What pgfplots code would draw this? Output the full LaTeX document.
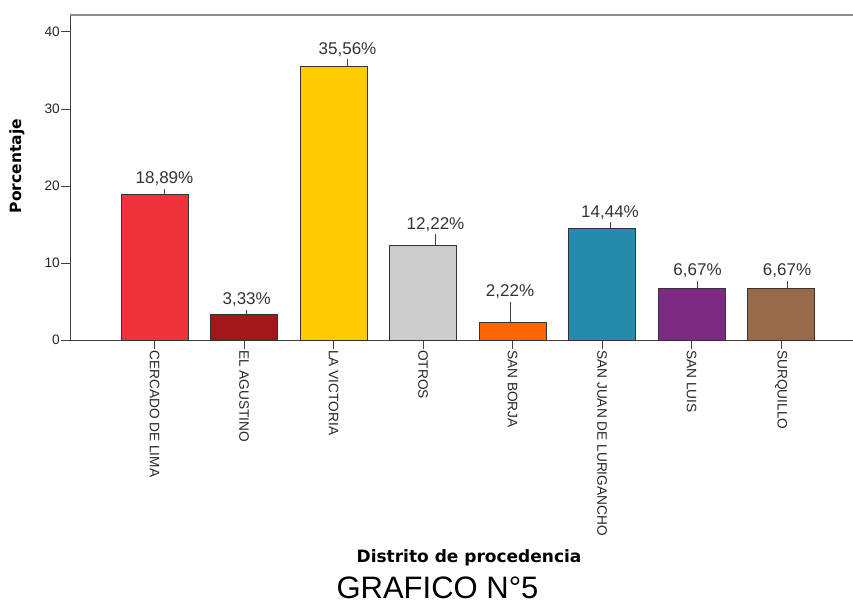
\documentclass[border=0pt]{standalone}
\usepackage{pgfplots}
\pgfplotsset{compat=1.18}
\usepackage{fontspec}
\setmainfont{Liberation Sans}
\newfontfamily\headfont{DejaVu Sans}

\definecolor{cRed}{RGB}{240,50,60}
\definecolor{cDarkRed}{RGB}{163,22,27}
\definecolor{cYellow}{RGB}{255,204,0}
\definecolor{cGray}{RGB}{204,204,204}
\definecolor{cOrange}{RGB}{255,102,0}
\definecolor{cTeal}{RGB}{36,139,174}
\definecolor{cPurple}{RGB}{125,42,130}
\definecolor{cBrown}{RGB}{152,105,74}

% value label with a short leader line below it
\newcommand\vlabel[2]{\vbox{\offinterlineskip\halign{\hfil##\hfil\cr
  \raisebox{0pt}[\height][0pt]{#1}\cr\noalign{\kern 5pt}
  {\color{black!75}\rule{0.8pt}{#2pt}}\cr}}}

\pgfplotsset{
  onebar/.style={fill=#1, draw=black!80, line width=0.9pt, bar shift=0pt},
  vlab/.style 2 args={
    nodes near coords={\vlabel{\pgfmathprintnumber[fixed,fixed zerofill,precision=2,use comma,assume math mode=true]{\pgfplotspointmeta}\%}{#2}},
    every node near coord/.append style={anchor=south, inner sep=0pt, xshift=#1pt,
      font=\fontsize{17}{17}\selectfont, text=black!80},
  },
}

\begin{document}
\begin{tikzpicture}
\useasboundingbox (-70pt,-263pt) rectangle (783pt,340pt);
\begin{axis}[
  at={(0pt,0pt)}, anchor=south west,
  scale only axis, width=783pt, height=325pt,
  ybar, bar width=67pt,
  xmin=-0.944, xmax=7.804, ymin=0, ymax=42.2,
  axis lines=left,
  axis line style={-, draw=black!75, line width=0.9pt},
  xtick={0,...,7},
  xticklabels={CERCADO DE LIMA, EL AGUSTINO, LA VICTORIA, OTROS, SAN BORJA,
    SAN JUAN DE LURIGANCHO, SAN LUIS, SURQUILLO},
  ytick={0,10,20,30,40},
  tick align=outside, major tick length=9pt,
  tick style={draw=black!75, line width=0.9pt},
  /pgf/number format/assume math mode=true,
  xticklabel style={rotate=-90, anchor=west, inner sep=1pt,
    font=\fontsize{13.7}{14}\selectfont, text=black!85},
  yticklabel style={inner sep=1pt, font=\fontsize{13.7}{14}\selectfont, text=black!85},
  ylabel={Porcentaje},
  ylabel style={at={(axis description cs:-0.0677,0.535)}, anchor=center,
    font=\headfont\bfseries\fontsize{15.5}{16}\selectfont},
  xlabel={Distrito de procedencia},
  xlabel style={at={(axis description cs:0.5096,0)}, yshift=-218pt, anchor=center,
    font=\headfont\bfseries\fontsize{17}{18}\selectfont},
  clip=false,
]
\addplot[onebar=cRed,     vlab={10}{5.5}]  coordinates {(0,18.89)};
\addplot[onebar=cDarkRed, vlab={2.7}{4.4}] coordinates {(1,3.33)};
\addplot[onebar=cYellow,  vlab={14}{6.2}]  coordinates {(2,35.56)};
\addplot[onebar=cGray,    vlab={12.5}{11}] coordinates {(3,12.22)};
\addplot[onebar=cOrange,  vlab={-2.5}{20.6}] coordinates {(4,2.22)};
\addplot[onebar=cTeal,    vlab={8}{6}]     coordinates {(5,14.44)};
\addplot[onebar=cPurple,  vlab={6}{7.6}]   coordinates {(6,6.67)};
\addplot[onebar=cBrown,   vlab={6}{7.6}]   coordinates {(7,6.67)};
\draw[black!45, line width=1.3pt] (rel axis cs:0,1) -- (rel axis cs:1,1);
\end{axis}
\node[anchor=base, font=\fontsize{31}{32}\selectfont] at (367.5pt,-258pt) {GRAFICO N°5};
\end{tikzpicture}
\end{document}
